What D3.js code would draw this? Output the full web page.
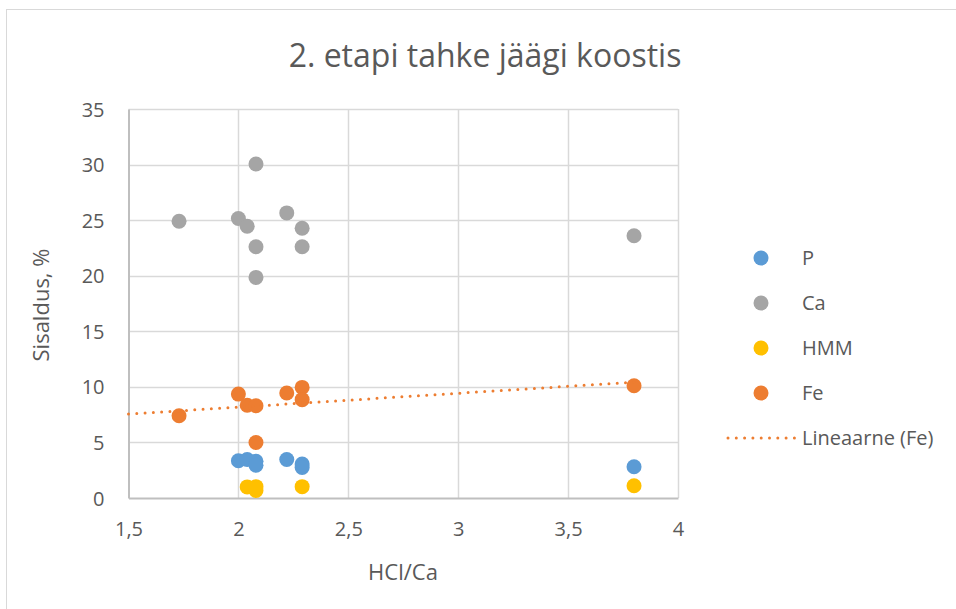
<!DOCTYPE html>
<html>
<head>
<meta charset="utf-8">
<script src="https://cdn.jsdelivr.net/npm/d3@7"></script>
<style>
  html, body { margin: 0; padding: 0; background: #fff; }
  svg { display: block; font-family: "Open Sans", "Liberation Sans", sans-serif; }
</style>
</head>
<body>
<svg id="chart" width="956" height="609"></svg>
<script>
// ---- Data ----
const title = "2. etapi tahke jäägi koostis";
const xTitle = "HCl/Ca";
const yTitle = "Sisaldus, %";
const seriesNames = ["P", "Ca", "HMM", "Fe"];
const seriesColors = ["#5B9BD5", "#A5A5A5", "#FFC000", "#ED7D31"];
const trendName = "Lineaarne (Fe)";

const pX = [2.0, 2.04, 2.08, 2.08, 2.22, 2.29, 2.29, 3.80];
const pY = [3.35, 3.47, 3.3, 2.95, 3.47, 3.05, 2.75, 2.81];
const caX = [1.73, 2.0, 2.04, 2.08, 2.08, 2.08, 2.22, 2.29, 2.29, 3.80];
const caY = [24.9, 25.15, 24.45, 30.05, 22.6, 19.85, 25.65, 24.27, 22.6, 23.6];
const hmmX = [2.04, 2.08, 2.08, 2.29, 3.80];
const hmmY = [1.0, 1.02, 0.68, 1.02, 1.1];
const feX = [1.73, 2.0, 2.04, 2.08, 2.08, 2.22, 2.29, 2.29, 3.80];
const feY = [7.4, 9.35, 8.35, 8.3, 5.0, 9.45, 9.95, 8.85, 10.1];

const xTicks = [1.5, 2, 2.5, 3, 3.5, 4];
const yTicks = [0, 5, 10, 15, 20, 25, 30, 35];

// ---- Layout ----
const svg = d3.select("#chart");
const plot = { left: 128.5, right: 678, top: 109, bottom: 498 };
const x = d3.scaleLinear().domain([1.5, 4]).range([plot.left, plot.right]);
const y = d3.scaleLinear().domain([0, 35]).range([plot.bottom, plot.top]);
const fmt = d => String(d).replace(".", ",");
const textColor = "#595959";

// outer frame (partially visible)
svg.append("rect").attr("x", 6.5).attr("y", 9.5).attr("width", 1000).attr("height", 1000)
  .attr("fill", "none").attr("stroke", "#D9D9D9").attr("stroke-width", 1);

// title
svg.append("text").attr("x", 485).attr("y", 67).attr("text-anchor", "middle")
  .attr("font-size", 32).attr("fill", textColor).text(title);

// gridlines
const grid = svg.append("g");
grid.selectAll(".gy").data(yTicks.filter(d => d !== 0)).enter().append("line")
  .attr("x1", plot.left).attr("x2", plot.right)
  .attr("y1", d => Math.round(y(d)) + 0.5).attr("y2", d => Math.round(y(d)) + 0.5)
  .attr("stroke", "#D9D9D9").attr("stroke-width", 1.5);
grid.selectAll(".gx").data(xTicks.filter(d => d !== 1.5)).enter().append("line")
  .attr("y1", plot.top).attr("y2", plot.bottom)
  .attr("x1", d => Math.round(x(d)) + 0.5).attr("x2", d => Math.round(x(d)) + 0.5)
  .attr("stroke", "#D9D9D9").attr("stroke-width", 1.5);

// axes
const xAxis = d3.axisBottom(x).tickValues(xTicks).tickFormat(fmt).tickSize(0).tickPadding(26);
const yAxis = d3.axisLeft(y).tickValues(yTicks).tickFormat(fmt).tickSize(0).tickPadding(24);
const gx = svg.append("g").attr("transform", `translate(0,${plot.bottom})`).call(xAxis);
const gy = svg.append("g").attr("transform", `translate(${plot.left},0)`).call(yAxis);
[gx, gy].forEach(g => {
  g.select(".domain").attr("stroke", "#BFBFBF").attr("stroke-width", 2);
  g.selectAll("text").attr("font-size", 20).attr("fill", textColor)
    .attr("font-family", "'Open Sans', sans-serif");
});
gy.selectAll("text").attr("dy", "0.35em");
gx.selectAll("text").attr("dy", "0.62em");

// axis titles
svg.append("text").attr("x", 403).attr("y", 580).attr("text-anchor", "middle")
  .attr("font-size", 22).attr("fill", textColor).text(xTitle);
svg.append("text").attr("transform", "translate(49,305) rotate(-90)").attr("text-anchor", "middle")
  .attr("font-size", 22).attr("fill", textColor).text(yTitle);

// series
const allX = [pX, caX, hmmX, feX];
const allY = [pY, caY, hmmY, feY];
const marks = svg.append("g");
seriesNames.forEach((name, i) => {
  const pts = allX[i].map((xv, j) => ({ x: xv, y: allY[i][j] }));
  marks.append("g").selectAll("circle").data(pts).enter().append("circle")
    .attr("cx", d => x(d.x)).attr("cy", d => y(d.y)).attr("r", 7.5)
    .attr("fill", seriesColors[i]);
});

// linear trendline for Fe
const n = feX.length;
const mx = d3.mean(feX), my = d3.mean(feY);
let sxy = 0, sxx = 0;
for (let i = 0; i < n; i++) { sxy += (feX[i] - mx) * (feY[i] - my); sxx += (feX[i] - mx) ** 2; }
const slope = sxy / sxx, intercept = my - slope * mx;
const tx0 = 1.5, tx1 = d3.max(feX);
svg.append("line")
  .attr("x1", x(tx0)).attr("y1", y(intercept + slope * tx0))
  .attr("x2", x(tx1)).attr("y2", y(intercept + slope * tx1))
  .attr("stroke", "#ED7D31").attr("stroke-width", 3).attr("stroke-linecap", "round")
  .attr("stroke-dasharray", "0 8.3");

// legend
const legend = svg.append("g");
const legY = [258, 303, 348, 393];
seriesNames.forEach((name, i) => {
  legend.append("circle").attr("cx", 761).attr("cy", legY[i]).attr("r", 7.5).attr("fill", seriesColors[i]);
  legend.append("text").attr("x", 802).attr("y", legY[i]).attr("dy", "0.36em")
    .attr("font-size", 20).attr("fill", textColor).text(name);
});
legend.append("line").attr("x1", 728).attr("x2", 795).attr("y1", 438).attr("y2", 438)
  .attr("stroke", "#ED7D31").attr("stroke-width", 3).attr("stroke-linecap", "round")
  .attr("stroke-dasharray", "0 8.3");
legend.append("text").attr("x", 802).attr("y", 438).attr("dy", "0.36em")
  .attr("font-size", 20).attr("fill", textColor).text(trendName);
</script>
</body>
</html>
